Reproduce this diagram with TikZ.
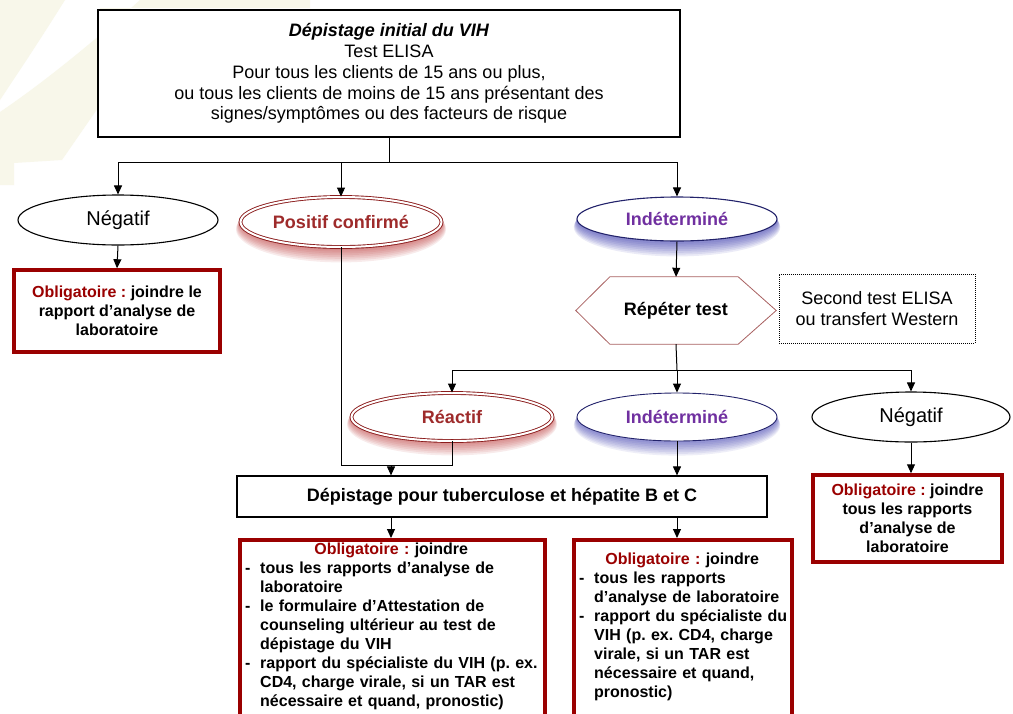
\documentclass[tikz,border=0pt]{standalone}
\usepackage{fontspec}
\setmainfont{Liberation Sans}
\usetikzlibrary{shapes.geometric,arrows.meta,calc}
\definecolor{oblred}{HTML}{9A0000}
\definecolor{txtred}{HTML}{9E2B2B}
\definecolor{ellred}{HTML}{8B1C1C}
\definecolor{txtpurple}{HTML}{7030A0}
\definecolor{navy}{HTML}{22226B}
\definecolor{glowred}{HTML}{B82828}
\definecolor{glowblue}{HTML}{2828A8}
\definecolor{hexline}{HTML}{A86060}
\definecolor{cream}{HTML}{F8F7EA}
\newcommand\fA{\fontsize{18}{20.8}\selectfont}
\newcommand\fN{\fontsize{20}{22}\selectfont}
\newcommand\fB{\fontsize{16}{19}\selectfont\bfseries}
\newcommand\dsh{\makebox[15pt][l]{-}}
\newcommand\ind{\hspace*{15pt}}
\newcommand\obl{\textcolor{oblred}{Obligatoire :}}
\frenchspacing
\begin{document}
\begin{tikzpicture}[x=1pt,y=-1pt,
  conn/.style={draw=black,line width=1pt},
  arr/.style={conn,-{Triangle[length=9pt,width=8pt]}},
  plainell/.style={ellipse,draw=black,line width=1.1pt,fill=white,inner sep=0pt,font=\fN},
  redell/.style={ellipse,draw=ellred,line width=0.9pt,double=white,double distance=2pt,fill=white,inner sep=0pt,font=\fA\bfseries,text=txtred},
  blueell/.style={ellipse,draw=navy,line width=1.1pt,fill=white,inner sep=0pt,font=\fA\bfseries,text=txtpurple},
  oblframe/.style={rectangle,draw=oblred,line width=3.5pt,fill=white,inner sep=0pt},
  obltext/.style={inner sep=0pt,font=\fB,align=center},
  plainbox/.style={rectangle,draw=black,line width=1.2pt,fill=white,inner sep=0pt}]
\useasboundingbox (0,0) rectangle (1013,713);
\clip (0,0) rectangle (1013,713);
\fill[white] (0,0) rectangle (1013,713);
% faint background decoration
\fill[cream] (0,0) -- (65,0) .. controls (40,40) and (20,70) .. (0,100) -- cycle;
\fill[cream] (140,0) .. controls (90,45) and (40,85) .. (0,112) -- (0,185) -- (14,185) -- (14,163) -- (62,160) -- (100,105) -- (100,8) -- (310,8) -- (310,0) -- cycle;
% glows
\foreach \k in {1,...,8} {
  \fill[glowred,opacity=0.09] (341,{222+0.9*\k}) ellipse [x radius={(101+0.5*\k)*1pt}, y radius={(26+0.9*\k)*1pt}];
  \fill[glowred,opacity=0.09] (452,{417+0.9*\k}) ellipse [x radius={(101+0.5*\k)*1pt}, y radius={(24+0.9*\k)*1pt}];
  \fill[glowblue,opacity=0.09] (677,{220+0.9*\k}) ellipse [x radius={(100+0.4*\k)*1pt}, y radius={(22+0.9*\k)*1pt}];
  \fill[glowblue,opacity=0.08] (677,{418+0.9*\k}) ellipse [x radius={(100+0.4*\k)*1pt}, y radius={(24+0.8*\k)*1pt}];
}
% top box
\node[plainbox,minimum width=582pt,minimum height=127pt,align=center,font=\fA] (top) at (389,73.5)
  {\textbf{\textit{Dépistage initial du VIH}}\\Test ELISA\\Pour tous les clients de 15 ans ou plus,\\ou tous les clients de moins de 15 ans présentant des\\signes/symptômes ou des facteurs de risque};
% first level
\node[plainell,minimum width=200pt,minimum height=50pt] (neg1) at (118,220) {Négatif};
\node[redell,minimum width=201pt,minimum height=50pt] (pos) at (341,222) {Positif confirmé};
\node[blueell,minimum width=200pt,minimum height=44pt] (ind1) at (677,219) {Indéterminé};
\node[oblframe,minimum width=206pt,minimum height=82pt] (obl1) at (117,311) {};
\node[obltext] (obl1t) at (obl1.center) {\obl{} joindre le\\rapport d’analyse de\\laboratoire};
% repeat test
\node[inner sep=0pt,minimum width=200pt,minimum height=67pt,font=\fA\bfseries] (hex) at (676,310.5) {Répéter test};
\draw[hexline,line width=0.8pt,fill=white] (hex.west) -- ($(hex.north west)+(34,0)$) -- ($(hex.north east)+(-38,0)$) -- (hex.east) -- ($(hex.south east)+(-38,0)$) -- ($(hex.south west)+(34,0)$) -- cycle;
\node[inner sep=0pt,font=\fA\bfseries] at (hex.center) {Répéter test};
\node[rectangle,draw=black,densely dotted,line width=1pt,minimum width=196pt,minimum height=69pt,align=center,font=\fA] (sec) at (877,308.5) {Second test ELISA\\ou transfert Western};
% second level
\node[redell,minimum width=201pt,minimum height=48pt] (rea) at (452,417) {Réactif};
\node[blueell,minimum width=200pt,minimum height=48pt,line width=0.9pt] (ind2) at (677,417) {Indéterminé};
\node[plainell,minimum width=198pt,minimum height=50pt] (neg2) at (911,417) {Négatif};
\node[oblframe,minimum width=189pt,minimum height=87pt] (obl4) at (907.5,518.5) {};
\node[obltext] (obl4t) at (obl4.center) {\obl{} joindre\\tous les rapports\\d’analyse de\\laboratoire};
% screening box
\node[plainbox,minimum width=530pt,minimum height=41pt,font=\fA\bfseries] (dep) at (502,496.5) {Dépistage pour tuberculose et hépatite B et C};
% bottom boxes
\node[oblframe,minimum width=305pt,minimum height=190pt,anchor=north] (obl2) at (392.5,538) {};
\node[inner sep=0pt,font=\fB,text width=296pt,align=left,anchor=north west] (obl2t) at (245,543)
 {\makebox[292pt][c]{\obl{} joindre}\\
  \dsh tous les rapports d’analyse de\\
  \ind laboratoire\\
  \dsh le formulaire d’Attestation de\\
  \ind counseling ultérieur au test de\\
  \ind dépistage du VIH\\
  \dsh rapport du spécialiste du VIH (p. ex.\\
  \ind CD4, charge virale, si un TAR est\\
  \ind nécessaire et quand, pronostic)};
\node[oblframe,minimum width=218pt,minimum height=190pt,anchor=north] (obl3) at (683,538) {};
\node[inner sep=0pt,font=\fB,text width=210pt,align=left,anchor=north west] (obl3t) at (579,553)
 {\makebox[206pt][c]{\obl{} joindre}\\
  \dsh tous les rapports\\
  \ind d’analyse de laboratoire\\
  \dsh rapport du spécialiste du\\
  \ind VIH (p. ex. CD4, charge\\
  \ind virale, si un TAR est\\
  \ind nécessaire et quand,\\
  \ind pronostic)};
% connectors
\coordinate (bus1) at (389,162);
\coordinate (bus2) at (677,370);
\coordinate (m) at (391,465);
\draw[conn] (top.south) -- (bus1);
\draw[conn] (neg1.north |- bus1) -- (ind1.north |- bus1);
\draw[arr] (neg1.north |- bus1) -- (neg1.north);
\draw[arr] (pos.north |- bus1) -- (pos.north);
\draw[arr] (ind1.north |- bus1) -- (ind1.north);
\draw[arr] (neg1.south) -- (obl1.north);
\draw[arr] (ind1.south) -- (hex.north);
\draw[conn] (hex.south) -- (bus2);
\draw[conn] (rea.north |- bus2) -- (neg2.north |- bus2);
\draw[arr] (rea.north |- bus2) -- (rea.north);
\draw[arr] (ind2.north |- bus2) -- (ind2.north);
\draw[arr] (neg2.north |- bus2) -- (neg2.north);
\draw[arr] (neg2.south) -- (neg2.south |- obl4.north);
\draw[conn] (pos.south) |- (rea.south |- m) -- (rea.south);
\draw[arr] (m) -- (m |- dep.north);
\draw[arr] (ind2.south) -- (ind2.south |- dep.north);
\draw[arr] (m |- dep.south) -- (m |- obl2.north);
\draw[arr] (ind2.south |- dep.south) -- (ind2.south |- obl3.north);
\end{tikzpicture}
\end{document}
